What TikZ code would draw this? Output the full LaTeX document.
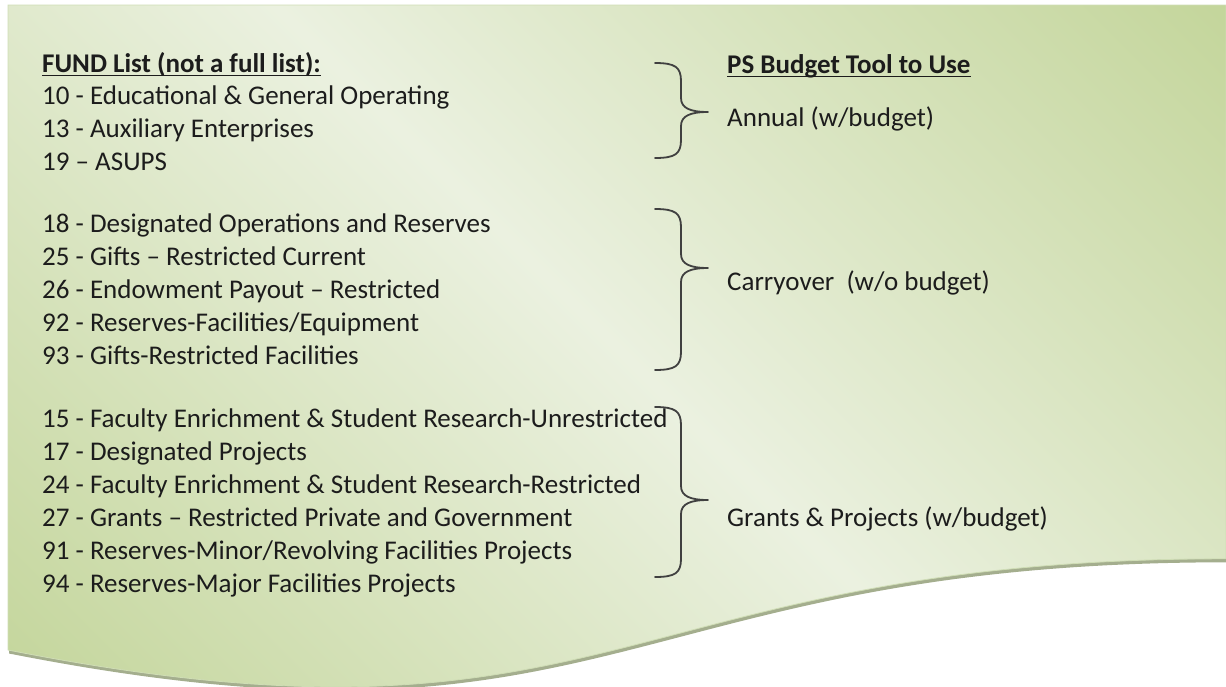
\documentclass[tikz,border=0pt]{standalone}
\usepackage{fontspec}
\setmainfont{Carlito}
\definecolor{leafgreen}{HTML}{C3D59A}
\definecolor{paleleaf}{HTML}{EBF1E0}
\definecolor{docshadow}{HTML}{A4AE8E}
\definecolor{docedge}{HTML}{CFDDB5}
\definecolor{ink}{HTML}{1C1C1C}
\pgfdeclarehorizontalshading{docshade}{100bp}{%
  color(0bp)=(leafgreen); color(14bp)=(leafgreen); color(50bp)=(paleleaf);
  color(86bp)=(leafgreen); color(100bp)=(leafgreen)}
\newcommand\budgetbrace[3]{% top, tip, bottom (y in px)
  \draw[bracestroke] (655,#1) .. controls (675,#1) and (681,#1+4) .. (681,#1+18)
    -- (681,#2-14) .. controls (681,#2-4) and (690,#2) .. (708,#2)
    .. controls (690,#2) and (681,#2+4) .. (681,#2+14)
    -- (681,#3-18) .. controls (681,#3-4) and (675,#3) .. (655,#3);}
\begin{document}
\begin{tikzpicture}[x=1pt,y=-1pt,
  line/.style={anchor=base west,inner sep=0pt,text=ink,font=\fontsize{27}{33}\selectfont},
  head/.style={line,font=\fontsize{27}{33}\selectfont\bfseries},
  ul/.style={draw=ink,line width=1.7pt},
  bracestroke/.style={draw=black!75,line width=1.8pt,line cap=round,line join=round}]
\useasboundingbox (0,0) rectangle (1226,686);
% document outline: straight top and sides, wavy bottom
\def\docpath{(8,5) -- (1226,5) -- (1226,558.8)
  .. controls (617,558.8) and (617,769.9) .. (8,650) -- cycle}
% soft drop shadow under the wavy edge
\fill[docshadow] [shift={(1,3.5)}] \docpath;
\begin{scope}
  \clip \docpath;
  \shade[shading=docshade,shading angle=45] (8,5) rectangle (1226,690);
\end{scope}
\draw[docedge,line width=0.8pt] \docpath;

% left column: fund list
\node[head] (fund) at (42,72) {FUND List (not a full list):};
\draw[ul] ([yshift=-3.5pt]fund.base west) -- ([yshift=-3.5pt]fund.base east);
\node[line] (f10) at (42,104.5) {10 - Educational \& General Operating};
\node[line] (f13) at (42,137.5) {13 - Auxiliary Enterprises};
\node[line] (f19) at (42,170.5) {19 – ASUPS};

\node[line] (f18) at (42,232) {18 - Designated Operations and Reserves};
\node[line] (f25) at (42,265) {25 - Gifts – Restricted Current};
\node[line] (f26) at (42,298) {26 - Endowment Payout – Restricted};
\node[line] (f92) at (42,331) {92 - Reserves-Facilities/Equipment};
\node[line] (f93) at (42,364) {93 - Gifts-Restricted Facilities};

\node[line] (f15) at (42,427) {15 - Faculty Enrichment \& Student Research-Unrestricted};
\node[line] (f17) at (42,460) {17 - Designated Projects};
\node[line] (f24) at (42,493) {24 - Faculty Enrichment \& Student Research-Restricted};
\node[line] (f27) at (42,526) {27 - Grants – Restricted Private and Government};
\node[line] (f91) at (42,559) {91 - Reserves-Minor/Revolving Facilities Projects};
\node[line] (f94) at (42,592) {94 - Reserves-Major Facilities Projects};

% right column: budget tool per group
\node[head] (tool) at (727,73) {PS Budget Tool to Use};
\draw[ul] ([yshift=-3.5pt]tool.base west) -- ([yshift=-3.5pt]tool.base east);
\node[line] (annual) at (727,126) {Annual (w/budget)};
\node[line] (carry) at (727,290) {Carryover~ (w/o budget)};
\node[line] (grants) at (727,526) {Grants \& Projects (w/budget)};

% braces grouping the funds
\budgetbrace{63}{112}{158}
\budgetbrace{209}{268}{370}
\budgetbrace{407}{500}{577}
\end{tikzpicture}
\end{document}
